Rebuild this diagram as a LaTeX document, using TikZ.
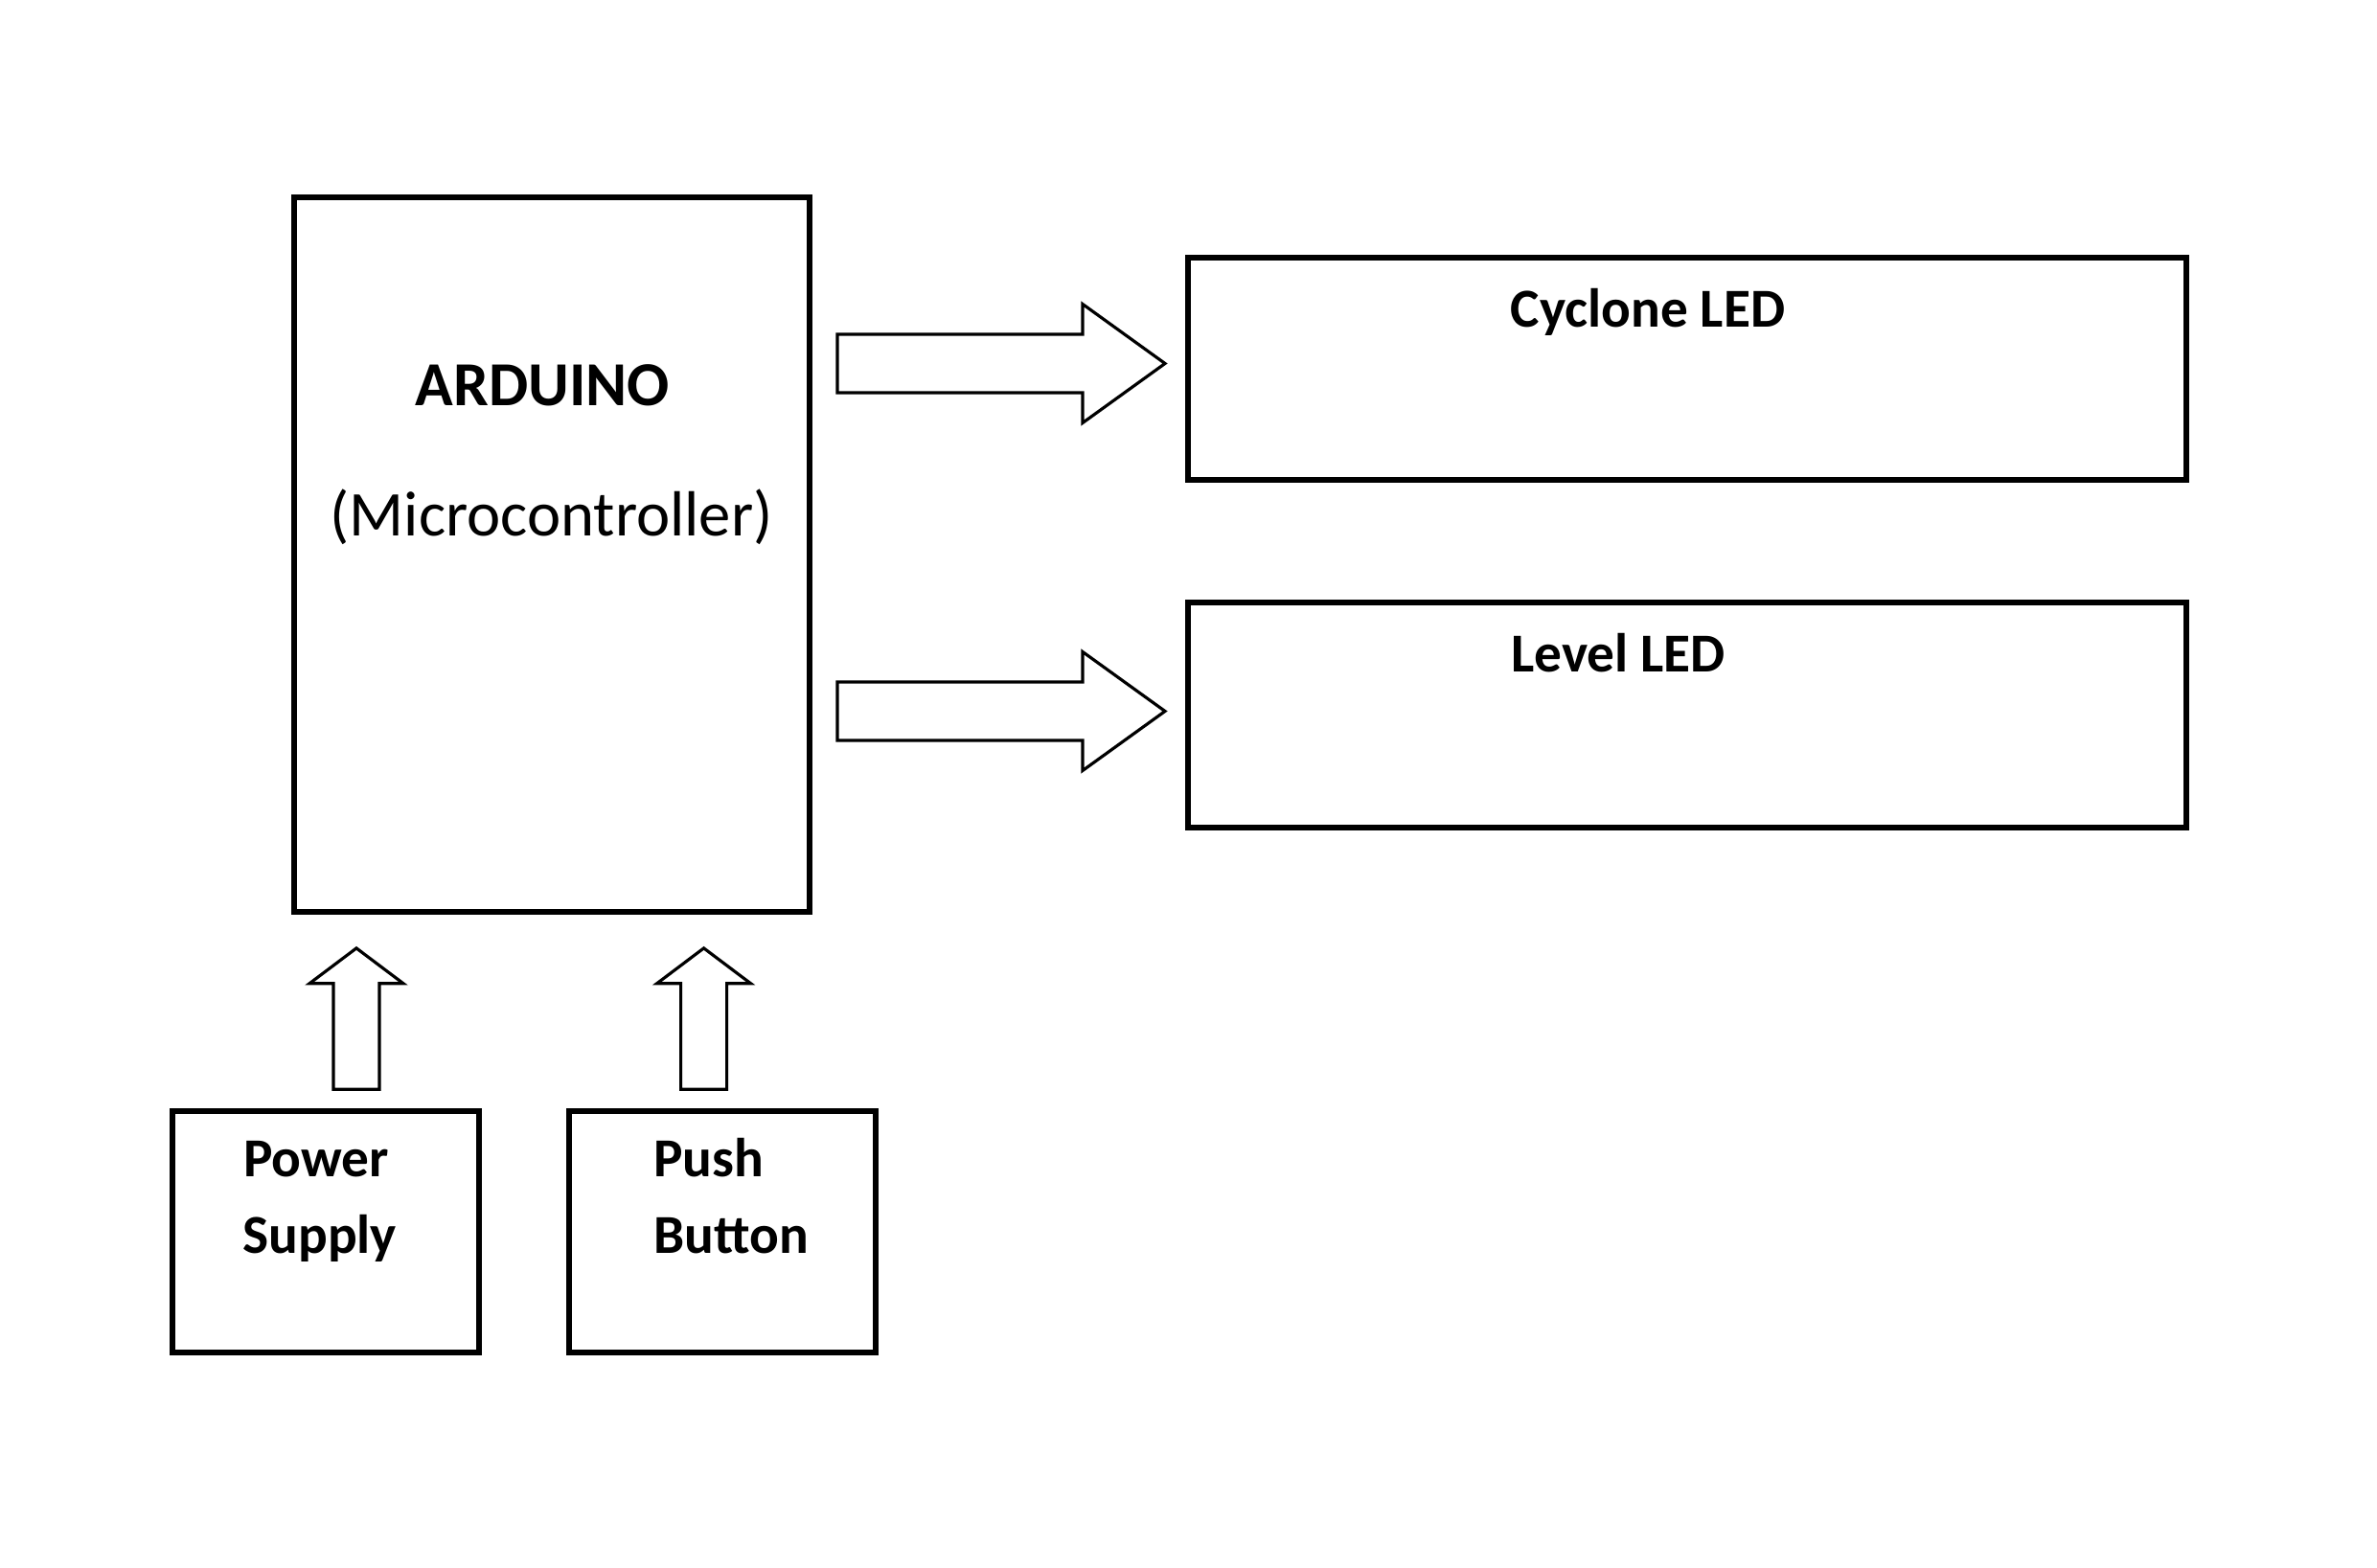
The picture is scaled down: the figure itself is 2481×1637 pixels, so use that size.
\documentclass[tikz,border=0pt]{standalone}
\usepackage{fontspec}
\setmainfont{Carlito}
\usetikzlibrary{calc}
\tikzset{
  blk/.style={draw=black, line width=1.7pt, inner sep=0pt, outer sep=0pt, fill=white},
  barrow/.style={draw=black, line width=0.9pt, line join=miter, fill=white},
  bigbold/.style={inner sep=0pt, anchor=base west, font=\fontsize{18.6}{23}\selectfont\bfseries},
  bigreg/.style={inner sep=0pt, anchor=base west, font=\fontsize{18.95}{23}\selectfont},
  lbl/.style={inner sep=0pt, anchor=base west, font=\fontsize{16.3}{20}\selectfont\bfseries}
}
\begin{document}
\begin{tikzpicture}[x=0.01cm, y=-0.01cm]
\useasboundingbox (0,0) rectangle (2481,1637);
% boxes
\node[blk, minimum width=5.37cm, minimum height=7.454cm] (ard) at (576,578.7) {};
\node[blk, minimum width=10.42cm, minimum height=2.32cm] (cyc) at (1761,384.9) {};
\node[blk, minimum width=10.42cm, minimum height=2.35cm] (lvl) at (1761,746.5) {};
\node[blk, minimum width=3.20cm, minimum height=2.52cm] (pwr) at (340,1286) {};
\node[blk, minimum width=3.195cm, minimum height=2.52cm] (psh) at (754.25,1286) {};
% texts
\node[bigbold] (tard) at (433,424) {ARDUINO};
\node[bigreg] (tmcu) at (344,560) {(Microcontroller)};
\node[lbl] (tcyc) at (1576,341.7) {Cyclone LED};
\node[lbl] (tlvl) at (1576.7,701.7) {Level LED};
\node[lbl] (tpw1) at (253.3,1228.3) {Power};
\node[lbl] (tpw2) at (252.7,1308.3) {Supply};
\node[lbl] (tpb1) at (681.7,1228.3) {Push};
\node[lbl] (tpb2) at (681.7,1308.3) {Button};
% block arrows: tails and tips
\coordinate (r1s) at (874,379.5);  \coordinate (r1t) at (1216,379.5);
\coordinate (r2s) at (874,742.5);  \coordinate (r2t) at (1216,742.5);
\coordinate (u1s) at (372,1137.3); \coordinate (u1t) at (372,989.9);
\coordinate (u2s) at (734.6,1137.3); \coordinate (u2t) at (734.6,989.9);
\foreach \s/\t in {r1s/r1t, r2s/r2t}{
  \draw[barrow] ($(\s)+(0,-30.5)$) -- ($(\t)+(-86,-30.5)$) -- ($(\t)+(-86,-62)$)
     -- (\t) -- ($(\t)+(-86,62)$) -- ($(\t)+(-86,30.5)$) -- ($(\s)+(0,30.5)$) -- cycle;
}
\foreach \s/\t in {u1s/u1t, u2s/u2t}{
  \draw[barrow] ($(\s)+(-24,0)$) -- ($(\t)+(-24,36.9)$) -- ($(\t)+(-49,36.9)$)
     -- (\t) -- ($(\t)+(49,36.9)$) -- ($(\t)+(24,36.9)$) -- ($(\s)+(24,0)$) -- cycle;
}
\end{tikzpicture}
\end{document}
